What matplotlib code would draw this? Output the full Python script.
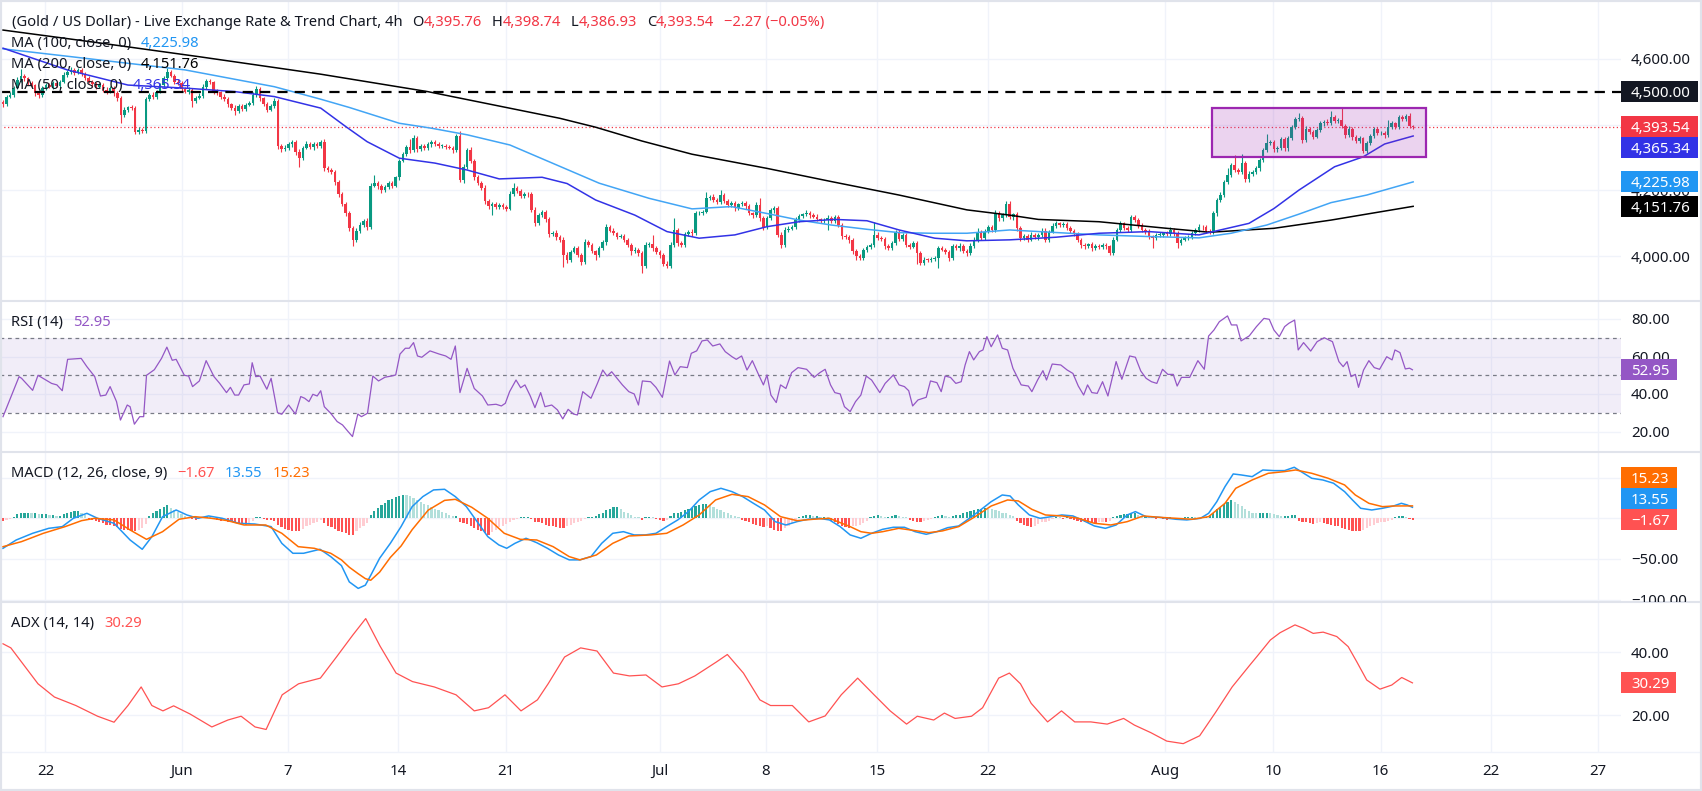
import numpy as np
import matplotlib
matplotlib.use("Agg")
import matplotlib.pyplot as plt
from matplotlib.patches import Rectangle
from matplotlib.lines import Line2D
from matplotlib.transforms import Bbox, TransformedBbox, blended_transform_factory

plt.rcParams["font.family"] = ["Noto Sans", "DejaVu Sans"]

W, H = 1702, 791
FS = 10.8
FS_LEG = 10.6
TDY = 1.8                # glyph centring nudge, pixels
DARK = "#131722"
UP, DOWN = "#089981", "#f23645"
GRID = "#f0f3fa"
SEP = "#e0e3eb"
MINUS = "\u2212"

# ---------------- data (4h bars) ----------------
first_open = 4470.0
closes = [
    4462, 4485, 4490, 4512, 4535, 4548, 4540, 4525, 4520, 4495, 4490, 4510, 4520, 4515, 4525, 4518, 4530, 4552, 4560, 4566,
    4558, 4565, 4555, 4540, 4530, 4522, 4515, 4520, 4505, 4500, 4512, 4495, 4480, 4430, 4445, 4452, 4450, 4378, 4385, 4380,
    4478, 4490, 4485, 4500, 4520, 4540, 4560, 4548, 4530, 4525, 4508, 4500, 4505, 4472, 4482, 4488, 4515, 4532, 4528, 4502,
    4498, 4485, 4478, 4462, 4450, 4440, 4455, 4448, 4460, 4465, 4490, 4508, 4480, 4462, 4445, 4455, 4472, 4335, 4325, 4330,
    4340, 4346, 4318, 4298, 4330, 4342, 4332, 4340, 4335, 4348, 4268, 4262, 4255, 4225, 4188, 4160, 4132, 4085, 4050, 4078,
    4095, 4108, 4088, 4215, 4222, 4212, 4200, 4210, 4222, 4215, 4240, 4290, 4310, 4332, 4322, 4358, 4325, 4335, 4330, 4340,
    4348, 4340, 4335, 4336, 4332, 4330, 4322, 4364, 4232, 4272, 4323, 4290, 4240, 4222, 4208, 4168, 4152, 4158, 4150, 4156,
    4150, 4145, 4190, 4206, 4198, 4182, 4190, 4188, 4142, 4102, 4125, 4135, 4112, 4068, 4072, 4058, 4050, 4005, 3990, 4014,
    4024, 4004, 3982, 4044, 4034, 4015, 4004, 4025, 4042, 4090, 4078, 4070, 4060, 4062, 4050, 4034, 4015, 4020, 4009, 3970,
    4034, 4038, 4024, 4014, 4004, 3978, 3972, 4034, 4080, 4040, 4034, 4068, 4075, 4070, 4130, 4133, 4136, 4176, 4181, 4172,
    4166, 4186, 4168, 4157, 4162, 4146, 4158, 4162, 4152, 4130, 4125, 4155, 4115, 4090, 4115, 4140, 4146, 4066, 4035, 4080,
    4084, 4090, 4110, 4122, 4127, 4132, 4124, 4120, 4112, 4108, 4110, 4116, 4106, 4120, 4095, 4062, 4060, 4048, 4015, 4000,
    3995, 4018, 4028, 4034, 4066, 4056, 4054, 4030, 4024, 4040, 4074, 4052, 4064, 4035, 4029, 4040, 4010, 3980, 3990, 3988,
    3992, 3996, 4024, 4020, 4014, 3994, 4030, 4024, 4032, 4016, 4010, 4032, 4050, 4075, 4055, 4075, 4088, 4080, 4130, 4115,
    4126, 4160, 4118, 4128, 4085, 4055, 4062, 4050, 4065, 4058, 4064, 4078, 4050, 4075, 4092, 4100, 4094, 4098, 4086, 4078,
    4070, 4050, 4034, 4030, 4036, 4025, 4032, 4027, 4034, 4030, 4010, 4050, 4080, 4100, 4086, 4080, 4118, 4110, 4095, 4080,
    4075, 4060, 4055, 4064, 4066, 4070, 4068, 4080, 4070, 4040, 4050, 4055, 4060, 4070, 4080, 4090, 4088, 4076, 4075, 4130,
    4170, 4186, 4226, 4247, 4277, 4262, 4257, 4282, 4234, 4251, 4256, 4267, 4292, 4323, 4343, 4348, 4325, 4330, 4356, 4328,
    4358, 4393, 4416, 4419, 4353, 4388, 4378, 4363, 4383, 4404, 4409, 4404, 4422, 4411, 4414, 4397, 4368, 4388, 4361, 4350,
    4358, 4321, 4343, 4365, 4388, 4373, 4375, 4367, 4393, 4404, 4393, 4424, 4417, 4426, 4395.76, 4393.54,
]
# wick above / below the body of each candle
up_wick = [
    6, 5, 8, 6, 9, 22, 7, 5, 6, 4, 8, 6, 5, 7, 6, 8, 5, 7, 6, 9,
    5, 7, 6, 4, 8, 5, 6, 7, 5, 8, 6, 5, 7, 6, 8, 5, 6, 7, 9, 6,
    7, 6, 8, 5, 7, 6, 12, 6, 5, 7, 6, 5, 8, 6, 5, 7, 8, 6, 7, 5,
    6, 5, 7, 6, 5, 8, 6, 7, 5, 6, 8, 9, 6, 5, 7, 6, 8, 6, 7, 9,
    7, 6, 8, 9, 6, 7, 5, 6, 8, 6, 7, 6, 5, 7, 6, 8, 5, 7, 6, 9,
    8, 6, 7, 9, 25, 6, 7, 8, 6, 7, 5, 6, 8, 7, 24, 10, 6, 7, 5, 8,
    6, 5, 7, 6, 5, 7, 6, 8, 15, 7, 6, 8, 5, 7, 6, 8, 5, 7, 6, 5,
    6, 5, 8, 16, 6, 7, 5, 6, 7, 8, 6, 7, 5, 8, 6, 7, 6, 8, 7, 6,
    7, 6, 5, 8, 6, 7, 5, 6, 8, 9, 6, 7, 5, 6, 7, 6, 5, 7, 6, 8,
    8, 6, 27, 7, 5, 6, 7, 8, 35, 6, 7, 5, 6, 7, 8, 6, 5, 20, 6, 7,
    6, 15, 7, 5, 6, 7, 5, 6, 7, 8, 6, 9, 21, 7, 6, 8, 6, 7, 8, 9,
    7, 6, 8, 5, 6, 8, 5, 6, 7, 5, 6, 8, 7, 6, 5, 7, 6, 5, 7, 6,
    6, 7, 5, 6, 39, 7, 6, 5, 7, 6, 6, 7, 8, 6, 5, 7, 6, 5, 7, 6,
    5, 6, 8, 7, 5, 6, 8, 6, 7, 5, 6, 7, 8, 10, 6, 7, 8, 6, 11, 7,
    6, 8, 7, 5, 6, 7, 5, 6, 8, 5, 6, 8, 7, 6, 8, 7, 5, 6, 7, 5,
    6, 5, 7, 6, 5, 7, 6, 5, 7, 6, 5, 8, 7, 6, 5, 7, 8, 7, 6, 5,
    6, 7, 5, 6, 7, 5, 6, 8, 6, 7, 5, 6, 5, 7, 6, 8, 5, 6, 7, 8,
    6, 8, 7, 20, 6, 31, 7, 30, 6, 7, 5, 6, 8, 7, 28, 6, 5, 6, 7, 6,
    6, 7, 8, 15, 6, 7, 5, 6, 7, 6, 5, 7, 19, 6, 5, 35, 6, 7, 5, 6,
    6, 5, 7, 6, 5, 6, 7, 5, 21, 6, 5, 5, 6, 7, 8, 2.98,
]
dn_wick = [
    8, 6, 5, 7, 4, 6, 8, 5, 6, 7, 10, 5, 6, 4, 7, 5, 6, 5, 7, 6,
    6, 5, 7, 6, 5, 8, 6, 5, 7, 6, 5, 7, 9, 26, 6, 8, 5, 8, 7, 6,
    5, 7, 6, 8, 5, 6, 7, 5, 8, 6, 7, 5, 6, 20, 7, 5, 6, 7, 5, 8,
    7, 6, 5, 8, 6, 10, 5, 7, 6, 5, 6, 5, 7, 6, 8, 5, 6, 9, 8, 6,
    6, 8, 9, 26, 7, 5, 6, 8, 5, 6, 9, 7, 6, 8, 7, 6, 9, 8, 20, 7,
    6, 7, 8, 6, 5, 7, 8, 6, 5, 7, 6, 9, 5, 6, 7, 6, 8, 5, 6, 7,
    7, 6, 5, 6, 7, 5, 8, 6, 7, 8, 6, 7, 8, 6, 7, 9, 8, 27, 6, 7,
    6, 8, 5, 6, 7, 5, 6, 7, 8, 9, 6, 5, 7, 8, 6, 7, 8, 36, 9, 6,
    5, 7, 8, 6, 7, 6, 14, 5, 6, 7, 5, 6, 7, 5, 6, 7, 11, 6, 7, 22,
    6, 5, 7, 6, 8, 7, 9, 6, 5, 8, 7, 6, 5, 7, 6, 5, 7, 6, 5, 6,
    7, 6, 5, 7, 6, 8, 6, 5, 7, 6, 8, 6, 7, 9, 6, 5, 7, 8, 11, 6,
    6, 5, 7, 6, 5, 6, 7, 5, 6, 7, 6, 30, 6, 5, 7, 8, 6, 7, 8, 11,
    7, 6, 5, 7, 6, 5, 7, 8, 6, 5, 7, 6, 5, 8, 6, 5, 32, 7, 6, 5,
    6, 7, 32, 5, 6, 8, 6, 5, 7, 6, 8, 5, 6, 7, 5, 6, 5, 7, 6, 8,
    7, 6, 5, 7, 8, 9, 6, 7, 5, 6, 7, 5, 8, 6, 5, 7, 6, 5, 7, 6,
    7, 6, 8, 7, 6, 8, 7, 6, 5, 7, 7, 6, 5, 7, 6, 5, 6, 7, 8, 6,
    7, 6, 31, 6, 5, 7, 6, 5, 7, 16, 6, 5, 7, 6, 5, 6, 7, 6, 8, 6,
    8, 6, 7, 5, 6, 7, 8, 6, 9, 7, 6, 5, 7, 6, 5, 6, 7, 8, 6, 7,
    7, 6, 5, 6, 8, 7, 6, 8, 5, 6, 7, 6, 5, 7, 6, 8, 9, 6, 7, 6,
    7, 8, 6, 5, 7, 6, 5, 7, 6, 5, 6, 7, 5, 6, 5, 6.61,
]
change, change_pct = -2.27, -0.05

# moving averages (bar index, value)
ma50_x = [0, 18, 35, 52, 65, 76, 89, 96, 102, 111, 121, 130, 139, 151, 158, 166, 177, 186, 195, 205,
          214, 223, 233, 242, 251, 261, 270, 282, 295, 307, 321, 335, 345, 349, 356, 363, 373, 381, 387, 395]
ma50_y = [4632, 4566, 4520, 4510, 4500, 4485, 4450, 4394, 4348, 4298, 4283, 4262, 4235, 4240, 4221, 4171, 4125, 4075, 4055, 4065,
          4090, 4105, 4112, 4108, 4080, 4055, 4047, 4050, 4058, 4070, 4075, 4065, 4090, 4100, 4145, 4201, 4272, 4302, 4341, 4365.34]
ma100_x = [0, 20, 51, 76, 89, 97, 111, 120, 130, 142, 153, 167, 181, 193, 204, 214, 223, 232, 242, 251,
           260, 270, 282, 307, 321, 335, 344, 354, 363, 372, 382, 395]
ma100_y = [4630, 4605, 4566, 4515, 4477, 4452, 4404, 4389, 4369, 4338, 4287, 4222, 4176, 4144, 4151, 4130, 4110, 4095, 4082, 4072,
           4070, 4070, 4080, 4065, 4060, 4056, 4070, 4095, 4128, 4163, 4186, 4225.98]
ma200_x = [0, 27, 55, 89, 119, 156, 166, 179, 193, 214, 232, 251, 270, 282, 290, 307, 326, 338, 356, 372, 395]
ma200_y = [4687, 4648, 4606, 4553, 4500, 4419, 4392, 4350, 4310, 4267, 4227, 4186, 4141, 4125, 4112, 4105, 4085, 4073, 4085, 4110, 4151.76]

# drawings
level_4500 = 4500.0
box_bars = (338.6, 398.6)
box_prices = (4301.5, 4451.0)

# RSI (14)
rsi_x = [0, 4.5, 5.2, 8.3, 9.8, 13.6, 15.1, 16.6, 18.1, 21.9, 23.5, 25.7, 27.3, 28.8, 30, 31.8, 32.9, 34.8, 35.6, 36.8,
         38.3, 39.4, 40.2, 42.4, 44.4, 45.9, 47.4, 48.5, 50.8, 52, 53.1, 55, 56.9, 59.1, 60.7, 62.6, 63.7, 64.9, 66, 67.5,
         69, 69.8, 70.8, 72, 73.9, 75.1, 76.9, 78.1, 80, 81.9, 83.4, 84.5, 85.7, 86.8, 88, 89, 90, 91.8, 93.6, 95.1,
         96.7, 97.9, 99.4, 100.4, 102.1, 103.6, 105.2, 107, 108.8, 110, 111.2, 112.7, 113.8, 115, 116.1, 117.3, 119.6, 122.2, 124, 125.5,
         126.7, 128, 130, 132, 134.3, 135.8, 138.1, 139.6, 140.7, 141.9, 143.7, 145, 146.2, 147.7, 149, 150.6, 151.8, 153.7, 155.3, 156.8,
         158.3, 159.8, 160.9, 162.4, 164.7, 166.5, 168, 169.2, 170.5, 172, 173.5, 175.3, 176.8, 178, 179.1, 181.4, 182.9, 184.7, 186.7, 188.2,
         189.7, 191.7, 192.8, 194.3, 195.8, 197.3, 198.8, 200.8, 202.3, 204.2, 205.4, 206.9, 208.4, 209.9, 211.4, 213, 214, 215.1, 216.6, 217.8,
         219.3, 220.9, 222.7, 225.1, 227.2, 228.8, 230.3, 231.8, 233, 234.5, 235.7, 237.3, 238.8, 240.3, 241.8, 243.3, 245.6, 247.1, 249.4, 251,
         252.5, 253.7, 254.8, 256.3, 258.6, 259.8, 261.6, 262.8, 263.9, 265.4, 266.9, 268.4, 269.5, 270.7, 271.9, 273.5, 274.5, 275.6, 276.8, 278.6,
         279.9, 281.4, 282.9, 285.2, 287.2, 288.2, 289.8, 291.3, 292.3, 293.9, 296.3, 298.1, 299.7, 301.2, 302.7, 303.8, 305, 306.5, 308, 309.5,
         311.8, 313.4, 315.6, 317.2, 318.7, 320.2, 321.7, 323.2, 324.8, 326.3, 327.8, 328.9, 330.1, 332.4, 334.7, 336.5, 337.7, 339.2, 340.7, 343,
         344.1, 345.6, 346.8, 349.1, 351.1, 353.2, 354.7, 356, 357.5, 359, 360.2, 361.8, 362.8, 364.3, 366.3, 368.1, 370.1, 372.4, 374.2, 375.4,
         376.5, 377.6, 378.8, 379.7, 381.1, 382.6, 384.1, 385.6, 387.6, 389.1, 389.9, 391.3, 392.8, 394, 394.8]
rsi_y = [28, 49.3, 48.4, 42, 50, 45.7, 44.9, 41.8, 58.5, 59, 54.6, 49.3, 39, 39.5, 44, 36, 26.2, 34.2, 33.3, 24,
         28, 28, 50, 53, 59, 65, 58, 58.5, 50, 49.6, 44, 47, 57.8, 49.3, 45.7, 40.8, 43.6, 39.5, 39.5, 44.9,
         45.4, 56.7, 49.3, 49.6, 42.6, 48.4, 30.1, 29.3, 34.2, 29.4, 38.7, 37.8, 36, 39.9, 39, 41.8, 33.3, 29.8, 25.4, 23.6,
         20, 17.4, 29.4, 28, 29.8, 49.6, 47, 49, 49.6, 50.2, 61.3, 64.4, 64.4, 67.4, 60.3, 59.6, 63, 61.3, 60.3, 58.5,
         65.6, 40.8, 53.7, 43, 39, 34.2, 34.6, 33.7, 35.1, 41.3, 47.5, 43.4, 44.9, 39, 32.8, 40.8, 33.3, 34.2, 31.6, 26.8,
         31.9, 29.4, 28.9, 41.3, 37.8, 45.7, 52.8, 49.6, 51.9, 48.4, 44.9, 41.3, 40.1, 34.2, 47, 46.6, 43.6, 38.3, 57.6, 50.2,
         54.6, 54.1, 61.7, 63, 68.3, 68.8, 65.6, 66.7, 62.6, 59.9, 58.5, 60.3, 52.8, 57.8, 51.4, 44.9, 50.2, 39.5, 35.5, 44.9,
         43, 51.4, 54.1, 53.2, 48.9, 51.4, 53.2, 44.9, 40.8, 40.1, 33.3, 30.7, 36, 39.5, 49.6, 47.5, 40.8, 45.7, 50.2, 44.9,
         44, 41.8, 33.7, 36.9, 38.3, 47, 46.1, 41.3, 49.6, 48.9, 45.7, 46.6, 55.5, 62.6, 58.2, 62.6, 63.5, 70.6, 65.2, 71.5,
         64.4, 63.5, 53.7, 44.9, 44.3, 41.3, 47.5, 52.5, 47.5, 56, 55.5, 52.8, 51, 44.3, 39.5, 44.9, 40.8, 40.4, 46.6, 39,
         57.3, 47.9, 60.3, 59.6, 52.3, 48.4, 46.6, 45.7, 53.2, 50.5, 50.5, 44.3, 48.9, 48.9, 57.8, 53.2, 70.9, 74.1, 78.5, 81.6,
         76.8, 76.8, 68.3, 71, 75.9, 80.3, 79.8, 74.1, 70.6, 75.9, 77.7, 79.4, 63.5, 67.4, 62.9, 67.9, 70, 67.9, 57.3, 54.6,
         57.3, 49.3, 50.5, 43.6, 52.8, 57.8, 54.1, 53.2, 59.9, 58.2, 63.5, 62.1, 53.4, 53.8, 52.95]

# MACD (12, 26, close, 9)
macd_x = [0, 3.7, 8.3, 12.8, 16.6, 19.7, 23.5, 26.5, 31.1, 35.6, 39, 41.7, 44.7, 48.5, 51.5, 54.6, 57.6, 61.4, 66, 70.5,
          75.1, 78.1, 81.2, 84.2, 88.8, 91.8, 94.8, 97, 99.5, 101.5, 103, 105.5, 108.5, 111.5, 114.6, 117.6, 120.6, 123.7, 126.7, 129.8,
          132.8, 135.8, 138.9, 141.1, 143.4, 146.5, 149.5, 152.5, 155.6, 158.6, 161.6, 164.7, 167.7, 170.8, 173.8, 176.8, 179.9, 182.9, 185.9, 189,
          192, 195, 198.1, 201.1, 204.2, 207.2, 210.2, 213.3, 216.3, 219.3, 222.4, 225.4, 228.5, 231.5, 234.5, 237.3, 240.3, 243.3, 246.4, 249.4,
          252.5, 255.5, 258.6, 261.6, 264.6, 267.7, 270.7, 273.8, 276.8, 279.9, 282.1, 284.4, 287.5, 290.5, 293.6, 296.6, 299.7, 302.7, 305.7, 308.8,
          311.8, 314.9, 317.2, 320.2, 324, 328.6, 331.6, 335.4, 337.7, 340, 342.3, 344.6, 346.8, 349.9, 352.9, 356, 359, 361.7, 363.6, 366.6,
          369.7, 372.7, 375.8, 378, 380.3, 383.4, 386.4, 389.5, 391.7, 393.3, 394.8]
macd_y = [-36.8, -26.6, -18.4, -12.3, -10.2, 0, 6.1, 0, -6.1, -26.6, -38, -22.5, 2, 10.2, 4.1, 0, 2.9, 0, -6.1, -7,
          -10.2, -30.7, -42.9, -42.9, -38, -47, -58, -78, -86, -82, -70, -49, -30.7, -10.2, 14.3, 26.6, 34.8, 35.6, 26.6, 14.3,
          -4.1, -22.5, -32.7, -36.8, -30.7, -24.5, -29.9, -36.8, -45, -51, -51, -47, -30.7, -18.4, -16.4, -20.4, -20.4, -18.4, -10.2, -2,
          8.2, 22.5, 32.7, 36.8, 32.7, 26.6, 18.4, 10.2, -4.1, -8.2, -4.1, -1.2, 0, -2, -10.2, -20.4, -24.5, -18.4, -13.5, -11,
          -11, -16.4, -19.6, -16.4, -11.5, -9.4, 0, 10.2, 20.4, 28.6, 27.4, 16.4, 4.1, 0, 2, 4.1, 2.9, -2.9, -9.4, -12.3,
          -8.2, 4.1, 8.2, 2, 1.2, -1.2, -2, 0, 6.1, 20.4, 38.9, 54.4, 53.2, 51.1, 59.3, 58.5, 58.5, 62.6, 57.3, 49.1,
          47, 43, 32.7, 22.5, 12.3, 10.2, 12.3, 15.1, 18.4, 16.4, 13.55]
sig_x = [0, 5.2, 11.3, 17.4, 22, 25.7, 31.1, 35.6, 40.2, 44.7, 49.3, 53.8, 58.4, 62.9, 67.5, 73.6, 78.1, 82.7, 87.2, 91.8,
         94.8, 97, 99.5, 101.5, 103, 105.5, 108.5, 111.5, 114.6, 119.1, 123.7, 126.7, 131.3, 135.8, 140.4, 144.9, 149.5, 154.1, 158.6, 161.6,
         166.2, 170.8, 175.3, 181.4, 185.9, 190.5, 195, 199.6, 204.2, 208.7, 213.3, 217.8, 222.4, 226.9, 231.5, 237.3, 240.3, 243.3, 246.4, 250.9,
         255.5, 259.3, 263.1, 267.7, 272.3, 276.8, 281.4, 284.4, 288.2, 292, 296.6, 301.2, 305.7, 310.3, 314.9, 319.4, 324, 328.6, 333.1, 337.7,
         342.3, 345.3, 349.9, 354.4, 359, 362.1, 366.6, 371.2, 375.8, 378.8, 382.6, 386.4, 389.5, 394.8]
sig_y = [-34.8, -28.6, -18.4, -10.2, -2.9, 0, -2, -14.3, -25.8, -16.4, -1.2, 2, 0, -2.9, -8.2, -8.2, -18.4, -34.8, -36.8, -42.9,
         -51, -60, -68, -74, -76, -66, -48, -34, -14, 10, 22, 23.3, 13.5, 0, -18.4, -25.8, -26.6, -34.8, -47, -51,
         -45, -30.7, -21.7, -20.4, -18.4, -8.2, 4.1, 22.5, 29.4, 26.6, 16.4, 2, -2.9, -1.2, 0, -10.2, -16.4, -18.4, -16.4, -12.3,
         -15.1, -17.6, -15.5, -10.2, 2, 15.1, 22.5, 21.3, 11, 4.1, 2.9, 0, -6.1, -8.2, -4.1, 2.9, 1.2, 0, -1.2, 2,
         18.4, 36.8, 47, 55.2, 57.3, 59.3, 55.2, 49.1, 40.9, 28.6, 18.4, 14.3, 15.1, 15.23]
hist = [
    -3, -2, -1, 2, 5, 6, 7, 7, 6, 6, 5, 5, 5, 4, 4, 3, 3, 5, 6, 8,
    9, 9, 6, 4, -1, -2, -3, -5, -6, -8, -8, -9, -11, -13, -14, -14, -15, -15, -14, -12,
    -7, 3, 6, 9, 12, 14, 16, 13, 10, 8, 5, 3, 2, -1, -2, -1, 1, 2, 1, -1,
    -2, -3, -2, -4, -5, -6, -7, -8, -8, -6, -3, 1, 1, -1, -2, -2, -3, -8, -11, -13,
    -14, -15, -16, -16, -13, -10, -8, -6, -4, -2, -6, -9, -11, -13, -15, -17, -18, -20, -20, -16,
    -12, -9, -6, 4, 9, 13, 16, 19, 22, 24, 26, 27, 29, 28, 27, 25, 22, 20, 18, 16,
    14, 12, 10, 8, 6, 4, 3, 3, -4, -6, -7, -9, -12, -14, -16, -18, -20, -17, -14, -11,
    -9, -7, -4, -2, -1, 1, 2, 2, -1, -4, -5, -6, -8, -9, -10, -11, -12, -12, -10, -8,
    -6, -5, -3, -1, 1, 2, 3, 5, 7, 10, 12, 14, 14, 11, 8, 6, 4, 2, 1, -2,
    1, 2, 1, -1, -2, -3, -2, 3, 6, 7, 8, 10, 12, 13, 15, 16, 18, 18, 16, 14,
    12, 10, 8, 6, 4, 3, 1, -2, -3, -5, -7, -8, -10, -11, -10, -12, -14, -16, -16, -12,
    -9, -6, -3, 2, 3, 4, 4, 3, 3, 2, 2, 1, -3, -5, -7, -9, -11, -12, -10, -9,
    -8, -6, -3, 2, 3, 4, 3, 2, 2, 3, 4, 3, 2, 1, -2, -3, -4, -4, -3, -2,
    -1, 2, 3, 4, 3, 2, 3, 4, 4, 6, 8, 9, 10, 12, 12, 13, 12, 11, 10, 9,
    7, 6, 4, 3, -3, -6, -8, -10, -11, -9, -7, -5, -4, -3, -1, 2, 1, -1, 1, -1,
    -2, -3, -4, -5, -6, -6, -6, -5, -4, -4, -3, 2, 3, 4, 5, 5, 6, 6, 4, 3,
    3, 2, 1, -1, 1, -1, -2, 1, -1, -2, -1, 1, 2, 2, 1, -1, 1, 2, 4, 7,
    11, 14, 17, 20, 22, 20, 17, 15, 12, 9, 7, 6, 6, 7, 7, 6, 5, 4, 3, 3,
    3, 4, 4, -3, -4, -5, -6, -7, -6, -5, -6, -7, -8, -9, -10, -12, -13, -14, -15, -16,
    -16, -14, -12, -10, -8, -6, -5, -4, -3, -2, 2, 3, 3, 2, -1, -1.67,
]

# ADX (14, 14)
adx_x = [0, 2.2, 5.2, 9.8, 14.4, 20.4, 26.5, 31.1, 35, 38.7, 41.7, 44.8, 47.8, 52.4, 58.5, 63, 66.7, 70.6, 73.7, 78.2,
         82.8, 88.9, 93.4, 98, 101.6, 105.6, 110.1, 114.7, 120.8, 126.9, 132, 136, 140.6, 145.1, 149.7, 152.7, 157.3, 161.8, 166.4, 171,
         175.5, 180.1, 184.6, 189.2, 193.8, 199.8, 202.9, 207.4, 212, 215, 221.1, 225.7, 230.3, 234.8, 239.4, 244, 248.5, 253.1, 256.1, 260.7,
         263.7, 266.7, 271.3, 274.4, 278.9, 281.9, 285, 288, 292.6, 296.5, 300.2, 304.7, 309.3, 313.9, 316.9, 321.5, 326, 330.6, 335.2, 339.7,
         344.3, 349.3, 351.2, 355, 357.7, 361.9, 364.3, 367, 369.8, 373.6, 376.8, 379.2, 382, 385.7, 389, 391.8, 394.8]
adx_y = [42.7, 41.4, 36.9, 30, 25.8, 23.1, 19.7, 17.8, 23.1, 29, 23.1, 21.4, 23, 20.4, 16.3, 18.5, 19.7, 16.3, 15.5, 26.5,
         30, 31.8, 38.5, 45.5, 50.7, 42, 33.4, 30.7, 29, 26.5, 21.4, 22.4, 26.5, 21.4, 24.9, 30, 38.5, 41.4, 40.4, 33.4,
         32.5, 32.8, 29, 30, 32.5, 36.9, 39.3, 33.4, 24.9, 23.1, 23.1, 17.9, 19.8, 26.5, 31.8, 26.5, 21.4, 17.2, 19.7, 18.5,
         20.7, 19, 19.7, 22.4, 31.8, 33.4, 30, 23.8, 17.9, 21.4, 17.9, 17.9, 17.2, 19, 16.9, 14.5, 11.8, 11, 13.5, 21,
         29, 36, 38.6, 43.9, 46.2, 48.7, 47.6, 46, 46.4, 45, 41.8, 37, 31.2, 28.3, 29.6, 32, 30.29]

tick_pos = [11.9, 50.1, 79.8, 110.6, 140.9, 184, 213.7, 244.8, 275.9, 325.5, 355.7, 385.9, 416.8, 446.8]
tick_lab = ["22", "Jun", "7", "14", "21", "Jul", "8", "15", "22", "Aug", "10", "16", "22", "27"]

# ---------------- layout (pixels) ----------------
PR = 1621                # right edge of the plotting area
X0, DX = 3.0, 3.57       # pixel of bar 0, pixels per bar
XLIM = ((0 - X0) / DX, (PR - X0) / DX)

fig = plt.figure(figsize=(W / 100, H / 100), dpi=100)
fig.patch.set_facecolor("white")
renderer = fig.canvas.get_renderer()


def fy(y):
    return 1 - y / H


def panel(top, bot, ylim, hgrid):
    ax = fig.add_axes([0, fy(bot), PR / W, (bot - top) / H])
    ax.set_xlim(*XLIM)
    ax.set_ylim(*ylim)
    ax.set_axis_off()
    for t in tick_pos:
        ax.axvline(t, color=GRID, lw=1, zorder=0)
    for g in hgrid:
        ax.axhline(g, color=GRID, lw=1, zorder=0)
    return ax


P_TOP, R_TOP, M_TOP, A_TOP, A_BOT = 2, 300.7, 451.7, 601.7, 751.7
axp = panel(P_TOP, R_TOP, (3865.2, 4772.2), [4000, 4200, 4400, 4600])
axr = panel(R_TOP, M_TOP, (9.36, 89.7), [20, 40, 60, 80])
axm = panel(M_TOP, A_TOP, (-102.3, 81.7), [-100, -50, 0, 50])
axa = panel(A_TOP, A_BOT, (8.44, 56.06), [20, 40])

# ---------------- price panel ----------------
c = np.array(closes, dtype=float)
o = np.r_[first_open, c[:-1]]
hi = np.maximum(o, c) + np.array(up_wick, dtype=float)
lo = np.minimum(o, c) - np.array(dn_wick, dtype=float)
x = np.arange(len(c))
col = np.where(c >= o, UP, DOWN)
axp.vlines(x, lo, hi, colors=col, lw=0.8, zorder=3)
axp.bar(x, np.maximum(np.abs(c - o), 2.5), bottom=np.minimum(o, c), width=0.72,
        color=col, linewidth=0, zorder=3)

C_MA50, C_MA100, C_MA200 = "#3232e6", "#42a5f5", "#000000"
axp.plot(ma200_x, ma200_y, color=C_MA200, lw=1.1, zorder=4)
axp.plot(ma100_x, ma100_y, color=C_MA100, lw=1.1, zorder=4)
axp.plot(ma50_x, ma50_y, color=C_MA50, lw=1.1, zorder=4)

axp.axhline(c[-1], color=DOWN, lw=0.9, dashes=(1, 2), zorder=2.5)
axp.axhline(level_4500, color="#000000", lw=1.6, dashes=(4.6, 3.2), zorder=5)
axp.add_patch(Rectangle((box_bars[0], box_prices[0]), box_bars[1] - box_bars[0],
                        box_prices[1] - box_prices[0], facecolor="#9c27b0", alpha=0.2,
                        edgecolor="none", zorder=5))
axp.add_patch(Rectangle((box_bars[0], box_prices[0]), box_bars[1] - box_bars[0],
                        box_prices[1] - box_prices[0], facecolor="none",
                        edgecolor="#9c27b0", lw=1.6, zorder=5))

# ---------------- RSI ----------------
C_RSI = "#9457c5"
axr.axhspan(30, 70, color="#7e57c2", alpha=0.1, lw=0, zorder=0.5)
for lvl in (70, 50, 30):
    axr.axhline(lvl, color="#787b86", lw=0.9, dashes=(3, 3), zorder=1)
axr.plot(rsi_x, rsi_y, color=C_RSI, lw=0.9, zorder=3)

# ---------------- MACD ----------------
C_MACD, C_SIG = "#2196f3", "#ff6d00"
h = np.array(hist, dtype=float)
hp = np.r_[h[0], h[:-1]]
hcol = np.where(h >= 0, np.where(h >= hp, "#26a69a", "#b2dfdb"),
                np.where(h <= hp, "#ff5252", "#ffcdd2"))
axm.bar(x, h, width=0.62, color=hcol, linewidth=0, zorder=2)
axm.plot(macd_x, macd_y, color=C_MACD, lw=1.1, zorder=3)
axm.plot(sig_x, sig_y, color=C_SIG, lw=1.1, zorder=3)

# ---------------- ADX ----------------
C_ADX = "#ff5252"
axa.plot(adx_x, adx_y, color=C_ADX, lw=0.9, zorder=3)

# ---------------- separators / frame ----------------
for yy in (R_TOP, M_TOP, A_TOP):
    fig.add_artist(Line2D([0, 1], [fy(yy), fy(yy)], transform=fig.transFigure, color=SEP, lw=1.5, zorder=2))
fig.add_artist(Line2D([0, 1], [fy(A_BOT), fy(A_BOT)], transform=fig.transFigure, color=GRID, lw=1, zorder=2))
fig.add_artist(Rectangle((0, 0), 1, 1, transform=fig.transFigure, fill=False, edgecolor=SEP, lw=3, zorder=10))


# ---------------- text helpers ----------------
def fmt(v):
    return f"{v:,.2f}".replace("-", MINUS)


def pieces(x0, y, items):
    xx = x0
    for s, colr, gap in items:
        t = fig.text(xx / W, fy(y + TDY), s, color=colr, fontsize=FS_LEG, va="center", ha="left", zorder=8)
        xx += t.get_window_extent(renderer).width + gap


def ypx(ax, v):
    return H - ax.transData.transform((0, v))[1]


def right_labels(ax, vals, top, bot):
    clip = TransformedBbox(Bbox([[PR / W, fy(bot)], [1, fy(top)]]), fig.transFigure)
    for v in vals:
        t = fig.text(1631 / W, fy(ypx(ax, v) + TDY), fmt(v), fontsize=FS, color=DARK,
                     va="center", ha="left", zorder=3)
        t.set_clip_box(clip)
        t.set_clip_on(True)


def badge(y, s, colr):
    t = fig.text(1631 / W, fy(y + TDY), s, color="white", fontsize=FS, va="center", ha="left", zorder=7)
    bb = t.get_window_extent(renderer)
    w = bb.x1 - PR + 7
    fig.add_artist(Rectangle((PR / W, fy(y + 10.5)), w / W, 21 / H, transform=fig.transFigure,
                             facecolor=colr, edgecolor="none", zorder=6))


# legends
pieces(11.5, 20.7, [("(Gold / US Dollar) - Live Exchange Rate & Trend Chart, 4h", DARK, 10),
                    ("O", DARK, 0), (fmt(o[-1]), DOWN, 10),
                    ("H", DARK, 0), (fmt(hi[-1]), DOWN, 10),
                    ("L", DARK, 0), (fmt(lo[-1]), DOWN, 10),
                    ("C", DARK, 0), (fmt(c[-1]), DOWN, 10),
                    (f"{fmt(change)} ({fmt(change_pct)}%)", DOWN, 0)])
pieces(11, 41.7, [("MA (100, close, 0)", DARK, 10), (fmt(ma100_y[-1]), "#2196f3", 0)])
pieces(11, 62.7, [("MA (200, close, 0)", DARK, 10), (fmt(ma200_y[-1]), "#000000", 0)])
pieces(11, 83.3, [("MA (50, close, 0)", DARK, 10), (fmt(ma50_y[-1]), C_MA50, 0)])
pieces(11, R_TOP + 20, [("RSI (14)", DARK, 10), (fmt(rsi_y[-1]), C_RSI, 0)])
pieces(11, M_TOP + 20, [("MACD (12, 26, close, 9)", DARK, 10), (fmt(hist[-1]), "#ff5252", 10),
                        (fmt(macd_y[-1]), C_MACD, 10), (fmt(sig_y[-1]), C_SIG, 0)])
pieces(11, A_TOP + 20, [("ADX (14, 14)", DARK, 10), (fmt(adx_y[-1]), C_ADX, 0)])

# right axis labels (those fully covered by value tags are left out)
right_labels(axp, [4000, 4200, 4600], P_TOP, R_TOP)
right_labels(axr, [20, 40, 60, 80], R_TOP, M_TOP)
right_labels(axm, [-50, -100], M_TOP, A_TOP)
right_labels(axa, [20, 40], A_TOP, A_BOT)

# value tags on the price scale
badge(ypx(axp, level_4500), fmt(level_4500), DARK)
y_last = ypx(axp, c[-1])
badge(y_last, fmt(c[-1]), DOWN)
badge(max(ypx(axp, ma50_y[-1]), y_last + 21), fmt(ma50_y[-1]), C_MA50)
badge(ypx(axp, ma100_y[-1]), fmt(ma100_y[-1]), "#2196f3")
badge(ypx(axp, ma200_y[-1]), fmt(ma200_y[-1]), "#000000")
badge(ypx(axr, rsi_y[-1]), fmt(rsi_y[-1]), C_RSI)
y_h = ypx(axm, hist[-1])
y_m = min(ypx(axm, macd_y[-1]), y_h - 21)
y_s = min(ypx(axm, sig_y[-1]), y_m - 21)
badge(y_h, fmt(hist[-1]), "#ff5252")
badge(y_m, fmt(macd_y[-1]), C_MACD)
badge(y_s, fmt(sig_y[-1]), C_SIG)
badge(ypx(axa, adx_y[-1]), fmt(adx_y[-1]), C_ADX)

# time axis
for p, lab in zip(tick_pos, tick_lab):
    xp = axa.transData.transform((p, 0))[0]
    fig.text(xp / W, fy(770 + TDY), lab, fontsize=FS, color=DARK, ha="center", va="center",
             fontweight="bold" if lab in ("Jun", "Jul", "Aug") else "normal")

fig.savefig("out.png", dpi=100, facecolor="white")
